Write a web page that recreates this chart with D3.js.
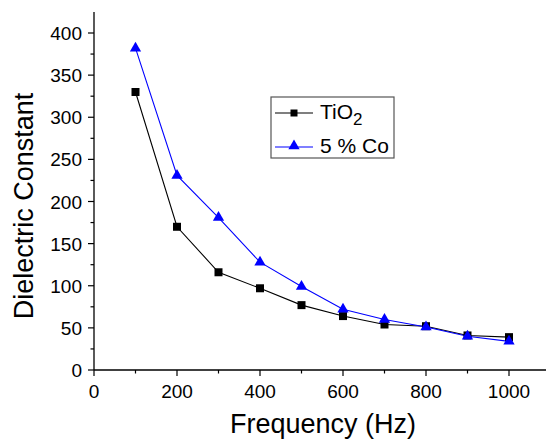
<!DOCTYPE html>
<html><head><meta charset="utf-8">
<script src="https://cdn.jsdelivr.net/npm/d3@7"></script>
<style>body{margin:0;background:#fff}svg{display:block}text{font-family:"Liberation Sans",Arial,sans-serif}</style>
</head><body>
<svg id="c" width="547" height="441"></svg>
<script>
const freq = [100,200,300,400,500,600,700,800,900,1000];
const tio2 = [330,170,116,97,77,64,54,52,41,39];
const co5 = [382,231,181,128,99,72,60,51,40,34];
const xTicks = [0,200,400,600,800,1000];
const yTicks = [0,50,100,150,200,250,300,350,400];

const svg = d3.select("#c");
const x = d3.scaleLinear().domain([0,1000]).range([94,509]);
const y = d3.scaleLinear().domain([0,400]).range([370,33]);
const xEnd = 546, yTop = 12;

const g = svg.append("g");
g.append("line").attr("x1",x(0)).attr("x2",xEnd).attr("y1",y(0)).attr("y2",y(0)).attr("stroke","#000").attr("stroke-width",1.3);
g.append("line").attr("x1",x(0)).attr("x2",x(0)).attr("y1",y(0)).attr("y2",yTop).attr("stroke","#000").attr("stroke-width",1.3);

d3.range(0,1100,100).forEach(v=>{
  const major = v%200===0;
  g.append("line").attr("x1",x(v)).attr("x2",x(v)).attr("y1",y(0)).attr("y2",y(0)+(major?6:3.5)).attr("stroke","#000").attr("stroke-width",1.2);
});
xTicks.forEach(v=>{
  g.append("text").attr("x",x(v)).attr("y",y(0)+28).attr("text-anchor","middle").attr("font-size",19).text(v);
});
d3.range(0,425,25).forEach(v=>{
  const major = v%50===0;
  g.append("line").attr("x1",x(0)).attr("x2",x(0)-(major?6:3.5)).attr("y1",y(v)).attr("y2",y(v)).attr("stroke","#000").attr("stroke-width",1.2);
});
yTicks.forEach(v=>{
  g.append("text").attr("x",x(0)-12).attr("y",y(v)+7).attr("text-anchor","end").attr("font-size",19).text(v);
});

svg.append("text").attr("x",323).attr("y",433).attr("text-anchor","middle").attr("font-size",27).text("Frequency (Hz)");
svg.append("text").attr("transform","translate(33,206) rotate(-90)").attr("text-anchor","middle").attr("font-size",27).text("Dielectric Constant");

const line = d3.line().x((d,i)=>x(freq[i])).y(d=>y(d));
svg.append("path").datum(tio2).attr("d",line).attr("fill","none").attr("stroke","#000").attr("stroke-width",1.1);
svg.append("path").datum(co5).attr("d",line).attr("fill","none").attr("stroke","#0000ff").attr("stroke-width",1.1);
const sq = d3.symbol().type(d3.symbolSquare).size(64);
const tri = d3.symbol().type(d3.symbolTriangle).size(55);
svg.selectAll(".s").data(tio2).join("path").attr("d",sq).attr("transform",(d,i)=>`translate(${x(freq[i])},${y(d)})`).attr("fill","#000");
svg.selectAll(".t").data(co5).join("path").attr("d",tri).attr("transform",(d,i)=>`translate(${x(freq[i])},${y(d)})`).attr("fill","#0000ff");

const lg = svg.append("g");
lg.append("rect").attr("x",271).attr("y",97).attr("width",123).attr("height",61).attr("fill","#fff").attr("stroke","#555").attr("stroke-width",1.2);
lg.append("line").attr("x1",275).attr("x2",313).attr("y1",113).attr("y2",113).attr("stroke","#000").attr("stroke-width",1.1);
lg.append("path").attr("d",d3.symbol().type(d3.symbolSquare).size(49)).attr("transform","translate(294,113)").attr("fill","#000");
lg.append("line").attr("x1",275).attr("x2",313).attr("y1",147).attr("y2",147).attr("stroke","#0000ff").attr("stroke-width",1.1);
lg.append("path").attr("d",tri).attr("transform","translate(294,146)").attr("fill","#0000ff");
const t1 = lg.append("text").attr("x",320).attr("y",119).attr("font-size",21);
t1.append("tspan").text("TiO");
t1.append("tspan").attr("font-size",17).attr("dy",6).text("2");
lg.append("text").attr("x",320).attr("y",153).attr("font-size",21).text("5 % Co");
</script>
</body></html>
